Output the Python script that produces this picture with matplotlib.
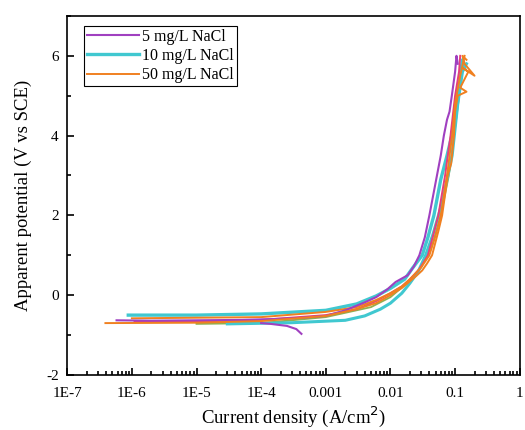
import matplotlib.pyplot as plt
import matplotlib.ticker as mticker

plt.rcParams['font.family'] = ['Liberation Serif', 'DejaVu Serif']
plt.rcParams['axes.unicode_minus'] = False

# 5 mg/L NaCl
i_5a = [5.8e-7, 2e-6, 1e-5, 5e-5, 1.5e-4, 4e-4, 1e-3, 2e-3, 4e-3, 6e-3, 0.009, 0.012, 0.0185, 0.023, 0.028, 0.034, 0.04, 0.051, 0.06, 0.067, 0.075, 0.082, 0.089, 0.1, 0.105, 0.11]
e_5a = [-0.63, -0.64, -0.63, -0.62, -0.6, -0.57, -0.52, -0.38, -0.18, -0.05, 0.15, 0.33, 0.5, 0.72, 1.0, 1.45, 2.0, 2.9, 3.5, 4.0, 4.4, 4.6, 5.0, 5.6, 6.0, 5.8]
i_5b = [1e-4, 1.4e-4, 2.5e-4, 3.5e-4, 4.2e-4]
e_5b = [-0.7, -0.72, -0.77, -0.85, -0.97]

# 10 mg/L NaCl
i_10a = [8.8e-7, 1e-5, 1e-4, 1e-3, 3e-3, 6e-3, 0.01, 0.0166, 0.022, 0.031, 0.038, 0.047, 0.06, 0.075, 0.089, 0.1, 0.107, 0.12, 0.13, 0.14]
e_10a = [-0.5, -0.5, -0.47, -0.38, -0.22, -0.02, 0.17, 0.4, 0.68, 1.0, 1.45, 2.0, 2.9, 3.5, 4.0, 4.6, 5.0, 5.5, 5.9, 5.7]
i_10b = [3e-5, 3e-4, 2e-3, 4e-3, 7e-3, 0.01, 0.015, 0.02, 0.027, 0.035, 0.045, 0.06, 0.075, 0.09, 0.11, 0.13, 0.15]
e_10b = [-0.72, -0.69, -0.63, -0.52, -0.35, -0.2, 0.05, 0.3, 0.6, 1.0, 1.5, 2.2, 2.9, 3.5, 4.8, 5.6, 5.8]

# 50 mg/L NaCl
i_50a = [3.9e-7, 1e-5, 1e-4, 1e-3, 3e-3, 6e-3, 0.01, 0.015, 0.02, 0.025, 0.031, 0.037, 0.044, 0.055, 0.063, 0.077, 0.087, 0.096, 0.1, 0.11, 0.15, 0.12, 0.16, 0.13, 0.2, 0.14, 0.13, 0.15]
e_50a = [-0.7, -0.69, -0.65, -0.52, -0.35, -0.2, 0.0, 0.18, 0.35, 0.48, 0.62, 0.8, 1.0, 1.6, 2.0, 3.0, 3.3, 4.0, 4.6, 5.0, 5.1, 5.2, 5.6, 5.7, 5.5, 5.8, 6.0, 5.9]
i_50b = [1e-6, 1e-4, 1e-3, 3e-3, 6e-3, 0.01, 0.015, 0.02, 0.03, 0.04, 0.05, 0.06, 0.075, 0.09, 0.1, 0.12, 0.14]
e_50b = [-0.58, -0.55, -0.42, -0.3, -0.12, 0.05, 0.22, 0.4, 0.7, 1.0, 1.5, 2.0, 3.0, 4.0, 4.8, 5.5, 6.0]

# other replicate runs
i_red = [1.1e-6, 1e-5, 1e-4, 1e-3, 3e-3, 6e-3, 0.01, 0.015, 0.02, 0.028, 0.038, 0.055, 0.07, 0.085, 0.1, 0.115, 0.12]
e_red = [-0.65, -0.66, -0.62, -0.5, -0.35, -0.15, 0.05, 0.22, 0.4, 0.65, 1.0, 2.0, 3.0, 4.0, 5.0, 5.6, 6.0]
i_grn = [1e-5, 1e-4, 1e-3, 5e-3, 0.01, 0.018, 0.03, 0.045, 0.06, 0.08, 0.1, 0.12]
e_grn = [-0.72, -0.7, -0.55, -0.3, -0.05, 0.3, 0.7, 1.3, 2.0, 3.0, 4.2, 5.2]

c5 = '#a040c0'
c10 = '#40c8d0'
c50 = '#f08020'

fig, ax = plt.subplots(figsize=(5.25, 4.3), dpi=100)
fig.subplots_adjust(left=0.128, right=0.99, bottom=0.128, top=0.963)

ax.plot(i_grn, e_grn, color='#90b050', lw=1.3)
ax.plot(i_10b, e_10b, color=c10, lw=2.2)
ax.plot(i_10a, e_10a, color=c10, lw=2.4, label='10 mg/L NaCl')
ax.plot(i_red, e_red, color='#e83e7a', lw=1.4)
ax.plot(i_50b, e_50b, color=c50, lw=1.4)
ax.plot(i_5a, e_5a, color=c5, lw=1.5, label='5 mg/L NaCl')
ax.plot(i_5b, e_5b, color=c5, lw=1.5)
ax.plot(i_50a, e_50a, color=c50, lw=1.4, label='50 mg/L NaCl')

ax.set_xscale('log')
ax.set_xlim(1e-7, 1)
ax.set_ylim(-2, 7)
ax.xaxis.set_major_locator(mticker.FixedLocator([1e-7, 1e-6, 1e-5, 1e-4, 1e-3, 1e-2, 1e-1, 1]))
ax.xaxis.set_major_formatter(mticker.FixedFormatter(['1E-7', '1E-6', '1E-5', '1E-4', '0.001', '0.01', '0.1', '1']))
ax.xaxis.set_minor_locator(mticker.LogLocator(base=10, subs=range(2, 10), numticks=20))
ax.xaxis.set_minor_formatter(mticker.NullFormatter())
ax.set_yticks([-2, 0, 2, 4, 6])
ax.yaxis.set_minor_locator(mticker.MultipleLocator(1))
ax.tick_params(which='both', direction='in', labelsize=11, width=1.2)
ax.tick_params(which='major', length=5)
ax.tick_params(which='minor', length=3)
ax.tick_params(axis='x', which='major', pad=9)
ax.tick_params(axis='y', which='major', pad=6)
for s in ax.spines.values():
    s.set_linewidth(1.2)

ax.set_xlabel('Current density (A/cm$^2$)', fontsize=13.5, labelpad=3)
ax.set_ylabel('Apparent potential (V vs SCE)', fontsize=13.5, labelpad=10)

h, l = ax.get_legend_handles_labels()
order = [1, 0, 2]
leg = ax.legend([h[k] for k in order], [l[k] for k in order], loc='upper left',
                fontsize=11.5, handlelength=3.2, handletextpad=0.2, borderpad=0.2,
                labelspacing=0.2, fancybox=False, edgecolor='black', framealpha=1,
                bbox_to_anchor=(0.02, 0.995))
leg.get_frame().set_linewidth(0.8)

plt.savefig('out.png', dpi=100)
